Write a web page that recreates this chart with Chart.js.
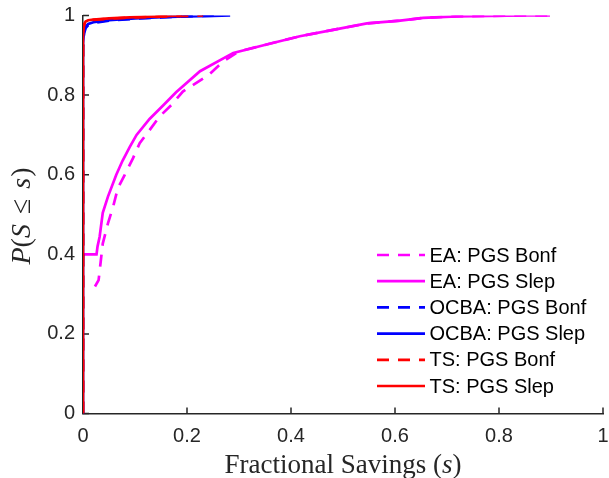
<!DOCTYPE html>
<html>
<head>
<meta charset="utf-8">
<script src="https://cdn.jsdelivr.net/npm/chart.js@4.4.0/dist/chart.umd.min.js"></script>
<style>
html, body { margin: 0; padding: 0; background: #fff; }
#wrap { width: 609px; height: 478px; }
</style>
</head>
<body>
<div id="wrap"><canvas id="c" width="609" height="478"></canvas></div>
<script>
// ----------------------------
// Data
// ----------------------------
const seriesLabels = ["EA: PGS Bonf", "EA: PGS Slep", "OCBA: PGS Bonf", "OCBA: PGS Slep", "TS: PGS Bonf", "TS: PGS Slep"];

const eaBonfX = [0.023, 0.030, 0.034, 0.038, 0.048, 0.058, 0.067, 0.080, 0.096, 0.109, 0.128, 0.147, 0.170, 0.192, 0.241, 0.270, 0.300, 0.353, 0.417, 0.481, 0.546, 0.610, 0.654, 0.719, 0.783, 0.850, 0.898];
const eaBonfY = [0.319, 0.335, 0.381, 0.427, 0.478, 0.520, 0.566, 0.599, 0.641, 0.679, 0.712, 0.746, 0.775, 0.809, 0.850, 0.885, 0.910, 0.927, 0.948, 0.964, 0.980, 0.987, 0.994, 0.998, 0.999, 1.000, 1.000];

const eaSlepX = [0, 0.026, 0.028, 0.032, 0.038, 0.048, 0.064, 0.076, 0.090, 0.103, 0.128, 0.154, 0.179, 0.225, 0.289, 0.353, 0.417, 0.481, 0.546, 0.610, 0.654, 0.719, 0.783, 0.850, 0.898];
const eaSlepY = [0.400, 0.400, 0.420, 0.444, 0.504, 0.545, 0.600, 0.635, 0.670, 0.700, 0.740, 0.774, 0.807, 0.860, 0.906, 0.927, 0.948, 0.964, 0.980, 0.987, 0.994, 0.998, 0.999, 1.000, 1.000];

const ocbaBonfX = [0, 0, 0.002, 0.005, 0.010, 0.020, 0.050, 0.100, 0.150, 0.200, 0.260];
const ocbaBonfY = [0, 0.920, 0.955, 0.968, 0.976, 0.981, 0.987, 0.992, 0.995, 0.998, 1.000];

const ocbaSlepX = [0, 0, 0.002, 0.005, 0.010, 0.020, 0.050, 0.100, 0.150, 0.200, 0.250, 0.283];
const ocbaSlepY = [0, 0.930, 0.960, 0.972, 0.979, 0.983, 0.988, 0.993, 0.996, 0.998, 0.999, 1.000];

const tsBonfX = [0, 0, 0.002, 0.005, 0.010, 0.020, 0.050, 0.100, 0.150, 0.200, 0.231];
const tsBonfY = [0, 0.955, 0.975, 0.983, 0.987, 0.989, 0.992, 0.995, 0.997, 0.999, 1.000];

const tsSlepX = [0, 0, 0.002, 0.005, 0.010, 0.020, 0.050, 0.100, 0.150, 0.190];
const tsSlepY = [0, 0.960, 0.978, 0.985, 0.988, 0.990, 0.993, 0.996, 0.998, 1.000];

const xTickLabels = ["0", "0.2", "0.4", "0.6", "0.8", "1"];
const yTickLabels = ["0", "0.2", "0.4", "0.6", "0.8", "1"];

// ----------------------------
// helpers
// ----------------------------
function pts(xs, ys) { return xs.map((x, i) => ({ x: x, y: ys[i] })); }

const MAGENTA = "#ff00ff", BLUE = "#0000ff", RED = "#ff0000";
const AXIS = "#262626";
const LW = 2.7;
const DASH = [12, 9];

function ds(idx, xs, ys, color, dashed, order) {
  return {
    label: seriesLabels[idx],
    data: pts(xs, ys),
    showLine: true,
    borderColor: color,
    backgroundColor: color,
    borderWidth: LW,
    borderDash: dashed ? DASH : [],
    pointRadius: 0,
    pointHoverRadius: 0,
    tension: 0,
    fill: false,
    order: order
  };
}

// inward tick marks (MATLAB style)
const inwardTicks = {
  id: "inwardTicks",
  beforeDatasetsDraw(chart) {
    const ctx = chart.ctx;
    const xs = chart.scales.x, ys = chart.scales.y;
    const len = 6;
    ctx.save();
    ctx.strokeStyle = AXIS;
    ctx.lineWidth = 1.5;
    ctx.beginPath();
    xs.ticks.forEach(t => {
      const px = xs.getPixelForValue(t.value);
      ctx.moveTo(px, xs.top);
      ctx.lineTo(px, xs.top - len);
    });
    ys.ticks.forEach(t => {
      const py = ys.getPixelForValue(t.value);
      ctx.moveTo(ys.right, py);
      ctx.lineTo(ys.right + len, py);
    });
    ctx.stroke();
    ctx.restore();
  }
};

// draws text pieces [text, font, extraGapAfter] in a row, centred on cx
function drawPieces(ctx, pieces, cx, baseY) {
  let total = 0;
  pieces.forEach(p => { ctx.font = p[1]; total += ctx.measureText(p[0]).width + (p[2] || 0); });
  let x = cx - total / 2;
  pieces.forEach(p => {
    ctx.font = p[1];
    ctx.fillText(p[0], x, baseY);
    x += ctx.measureText(p[0]).width + (p[2] || 0);
  });
}

const axisTitles = {
  id: "axisTitles",
  afterDraw(chart) {
    const ctx = chart.ctx;
    const a = chart.chartArea;
    const up = "27px 'Liberation Serif', serif";
    const it = "italic 27px 'Liberation Serif', serif";
    const up2 = "28px 'Liberation Serif', serif";
    const it2 = "italic 28px 'Liberation Serif', serif";
    ctx.save();
    ctx.fillStyle = AXIS;
    ctx.textBaseline = "alphabetic";
    ctx.textAlign = "left";
    drawPieces(ctx, [["Fractional Savings (", up], ["s", it], [")", up]], (a.left + a.right) / 2, 473);
    ctx.translate(30, 216);
    ctx.rotate(-Math.PI / 2);
    drawPieces(ctx, [["P", it2], ["(", up2], ["S", it2, 10], ["\u2264", up2, 10], ["s", it2, 1], [")", up2]], 0, 0);
    ctx.restore();
  }
};

// MATLAB-like legend without box, lower right
const lineLegend = {
  id: "lineLegend",
  afterDraw(chart) {
    const ctx = chart.ctx;
    const x0 = 377, x1 = 425, tx = 429.5, y0 = 255, dy = 26.2;
    ctx.save();
    ctx.font = "20px 'Liberation Sans', Arial, sans-serif";
    ctx.textBaseline = "middle";
    ctx.textAlign = "left";
    chart.data.datasets.forEach((d, i) => {
      const y = y0 + i * dy;
      ctx.strokeStyle = d.borderColor;
      ctx.lineWidth = d.borderWidth;
      ctx.setLineDash(d.borderDash);
      ctx.beginPath();
      ctx.moveTo(x0, y);
      ctx.lineTo(x1, y);
      ctx.stroke();
      ctx.setLineDash([]);
      ctx.fillStyle = "#000";
      ctx.fillText(d.label, tx, y + 1);
    });
    ctx.restore();
  }
};

const tickFont = { family: "'Liberation Sans', Arial, sans-serif", size: 20 };

new Chart(document.getElementById("c"), {
  type: "scatter",
  data: {
    datasets: [
      ds(0, eaBonfX, eaBonfY, MAGENTA, true, 3),
      ds(1, eaSlepX, eaSlepY, MAGENTA, false, 3),
      ds(2, ocbaBonfX, ocbaBonfY, BLUE, true, 2),
      ds(3, ocbaSlepX, ocbaSlepY, BLUE, false, 2),
      ds(4, tsBonfX, tsBonfY, RED, true, 1),
      ds(5, tsSlepX, tsSlepY, RED, false, 1)
    ]
  },
  options: {
    responsive: false,
    animation: false,
    layout: { padding: { left: 0, right: 6, top: 15.5, bottom: 0 } },
    plugins: { legend: { display: false }, tooltip: { enabled: false } },
    scales: {
      x: {
        type: "linear", min: 0, max: 1,
        // invisible outward tick marks only used to push the labels down
        grid: { display: true, drawOnChartArea: false, drawTicks: true, tickLength: 11, color: "rgba(0,0,0,0)" },
        border: { display: true, color: AXIS, width: 1.5 },
        ticks: {
          stepSize: 0.2, color: AXIS, font: tickFont, padding: 0, maxRotation: 0,
          callback: (v, i) => xTickLabels[i]
        },
        afterFit: s => { s.height = 64.5; }
      },
      y: {
        type: "linear", min: 0, max: 1,
        grid: { display: true, drawOnChartArea: false, drawTicks: true, tickLength: 8, color: "rgba(0,0,0,0)" },
        border: { display: true, color: AXIS, width: 1.5 },
        ticks: {
          stepSize: 0.2, color: AXIS, font: tickFont, padding: 0,
          callback: (v, i) => yTickLabels[i]
        },
        afterFit: s => { s.width = 83; }
      }
    }
  },
  plugins: [inwardTicks, axisTitles, lineLegend]
});
</script>
</body>
</html>
